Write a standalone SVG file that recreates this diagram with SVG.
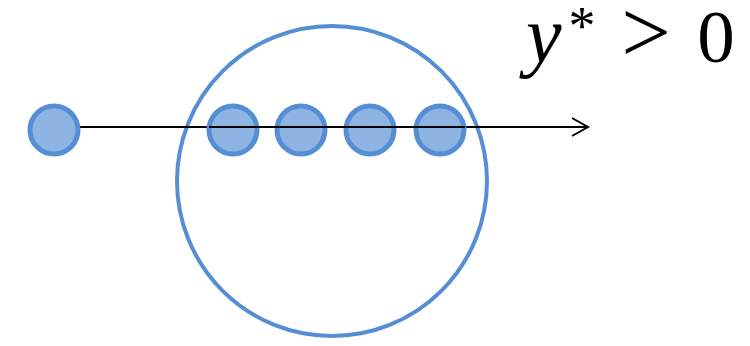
<svg xmlns="http://www.w3.org/2000/svg" width="750" height="346" viewBox="0 0 750 346">
<style>
.dot{fill:#8eb4e3;stroke:#558ed5;stroke-width:5}
.conn{stroke:#000;stroke-width:2;fill:none}
.t{font-family:"Liberation Serif","DejaVu Serif",serif;fill:#000}
</style>
<rect width="750" height="346" fill="#fff"/>
<g id="big-circle"><circle cx="332" cy="181" r="155" fill="none" stroke="#558ed5" stroke-width="4"/></g>
<g id="connectors">
<line class="conn" x1="80" y1="127" x2="588" y2="127"/>
<polyline class="conn" points="572,118 588,127 572,136"/>
</g>
<g id="n0"><circle class="dot" cx="54" cy="130" r="24"/></g>
<g id="n1"><circle class="dot" cx="233" cy="130" r="24"/></g>
<g id="n2"><circle class="dot" cx="301" cy="130" r="24"/></g>
<g id="n3"><circle class="dot" cx="370" cy="130" r="24"/></g>
<g id="n4"><circle class="dot" cx="440" cy="130" r="24"/></g>
<line class="conn" x1="209" y1="127" x2="465" y2="127"/>
<g id="label">
<text class="t" x="526" y="62" font-size="80" font-style="italic">y</text>
<text class="t" x="582" y="44" font-size="54" text-anchor="middle">*</text>
<text class="t" x="646" y="62" font-size="88" text-anchor="middle">&gt;</text>
<text class="t" x="716" y="62" font-size="75" text-anchor="middle">0</text>
</g>
</svg>
